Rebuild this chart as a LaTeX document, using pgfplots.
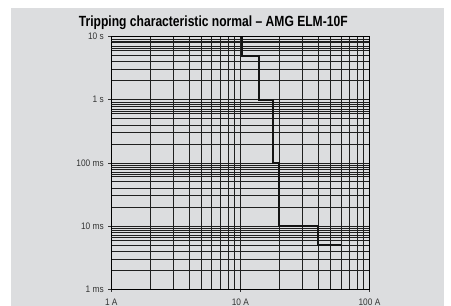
\documentclass[border=0pt]{standalone}
\usepackage{fontspec}
\setmainfont{Liberation Sans}[FakeStretch=0.82]
\newfontfamily\tickfont{Liberation Sans}[FakeStretch=0.88]
\usepackage{pgfplots}
\pgfplotsset{compat=1.18}
\definecolor{bg}{RGB}{220,221,223}
\begin{document}
\begin{tikzpicture}
\path[use as bounding box] (-111.3bp,-17bp) rectangle (339.7bp,289bp);
\clip (-111.3bp,-17bp) rectangle (339.7bp,289bp);
\fill[white] (-111.3bp,-17bp) rectangle (339.7bp,289bp);
\fill[bg] (-100.3bp,-17bp) rectangle (332.7bp,281bp);
\node[font=\bfseries\fontsize{14.8}{16}\selectfont, anchor=base, inner sep=0pt] at (102bp,262.5bp) {Tripping characteristic normal – AMG ELM-10F};
\begin{axis}[
  at={(0,0)}, anchor=south west,
  scale only axis, width=258.2bp, height=252.3bp,
  xmode=log, ymode=log,
  xmin=1, xmax=100, ymin=0.001, ymax=10,
  xtick={1,10,100}, xticklabels={1 A,10 A,100 A},
  ytick={0.001,0.01,0.1,1,10}, yticklabels={1 ms,10 ms,100 ms,1 s,10 s},
  extra y ticks={0.0065,0.0085,0.065,0.085,0.65,0.85,6.5,8.5},
  extra y tick labels={},
  extra tick style={major tick length=0pt, grid=major},
  tick align=outside, xtick pos=left, ytick pos=left,
  major tick length=3bp, minor tick length=0pt,
  grid=both,
  major grid style={black!88, line width=0.7bp},
  minor grid style={black!88, line width=0.7bp},
  axis line style={black, line width=0.8bp},
  tick style={black!80, line width=0.6bp},
  ticklabel style={font=\tickfont\fontsize{9.5}{10}\selectfont, text=black!80},
  xticklabel style={yshift=-3bp},
  yticklabel style={xshift=-1bp},
]
\addplot[black!92, line width=2bp, line join=miter] coordinates {
 (10.3,10) (10.3,5) (14,5) (14,1) (18,1) (18,0.1) (20,0.1) (20,0.01) (40,0.01) (40,0.005) (60,0.005)
};
\end{axis}
\end{tikzpicture}
\end{document}
